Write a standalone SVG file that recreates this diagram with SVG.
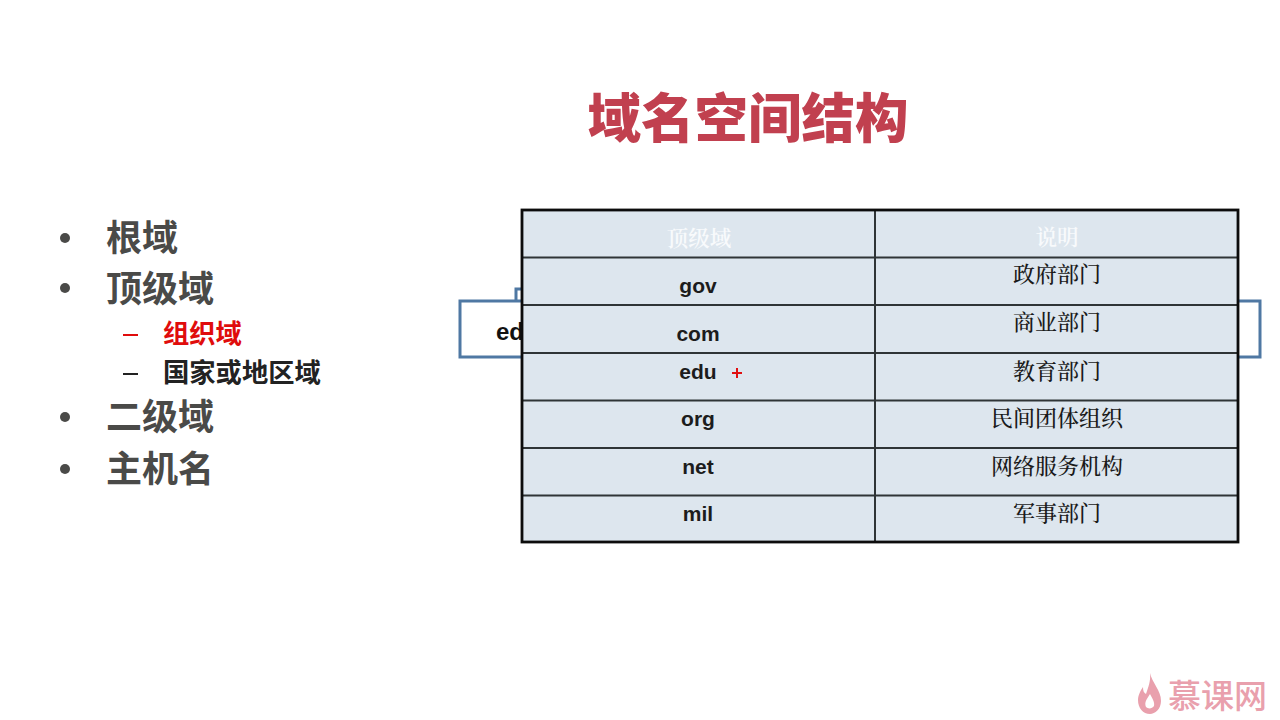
<svg xmlns="http://www.w3.org/2000/svg" width="1280" height="720" viewBox="0 0 1280 720">
<style>
.b{font-family:"Noto Sans CJK SC","Liberation Sans",sans-serif;font-weight:700;font-size:36px;fill:#4a4a48}
.s{font-family:"Noto Sans CJK SC","Liberation Sans",sans-serif;font-weight:700;font-size:26.300px}
.e{font-family:"Liberation Sans",Arial,sans-serif;font-weight:700;font-size:21px;fill:#1c1c1c;text-anchor:middle}
.c{font-family:"Noto Serif CJK SC","Noto Sans CJK SC",serif;font-size:22px;font-weight:500;fill:#1a1a1a;text-anchor:middle}
.h{fill:#f8fafc;font-size:21.500px;font-weight:600}
.g{stroke:#2f3436;stroke-width:2;fill:none}
</style>
<rect width="1280" height="720" fill="#fff"/>
<g id="title"><text x="748" y="138" text-anchor="middle" font-family="'Noto Sans CJK SC',sans-serif" font-weight="900" font-size="53.500" fill="#c1404f">域名空间结构</text></g>
<g id="bullets">
<circle cx="65" cy="238" r="5" fill="#4a4a48"/><text class="b" x="106" y="251">根域</text>
<circle cx="65" cy="288" r="5" fill="#4a4a48"/><text class="b" x="106" y="302">顶级域</text>
<rect x="123" y="334" width="15" height="2" fill="#e00c0c"/><text class="s" x="163" y="343" fill="#e00c0c">组织域</text>
<rect x="123" y="373" width="15" height="2" fill="#222"/><text class="s" x="163" y="382" fill="#222">国家或地区域</text>
<circle cx="65" cy="417" r="5" fill="#4a4a48"/><text class="b" x="106" y="430">二级域</text>
<circle cx="65" cy="469" r="5" fill="#4a4a48"/><text class="b" x="106" y="482">主机名</text>
</g>
<g id="behind-box">
<path d="M516 302V289H524" fill="none" stroke="#4f78a3" stroke-width="3"/>
<rect x="460" y="301" width="800" height="56" fill="#fff" stroke="#4f78a3" stroke-width="3"/>
<text x="496" y="340" font-family="'Liberation Sans',sans-serif" font-weight="700" font-size="24" fill="#111">edu</text>
</g>
<g id="table">
<rect x="522" y="210" width="716" height="332" fill="#dde6ee"/>
<g id="table-grid">
<path class="g" d="M522 257.500H1238M522 305H1238M522 353H1238M522 400.500H1238M522 448H1238M522 495.500H1238M875 210V542"/>
<rect x="522" y="210" width="716" height="332" fill="none" stroke="#0c0c0c" stroke-width="2.800"/>
</g>
<text class="c h" x="699" y="246">顶级域</text><text class="c h" x="1057" y="245">说明</text>
<text class="e" x="698" y="293">gov</text><text class="c" x="1057" y="282">政府部门</text>
<text class="e" x="698" y="341">com</text><text class="c" x="1057" y="330">商业部门</text>
<text class="e" x="698" y="379">edu</text><text class="c" x="1057" y="379">教育部门</text>
<text class="e" x="698" y="426">org</text><text class="c" x="1057" y="426">民间团体组织</text>
<text class="e" x="698" y="474">net</text><text class="c" x="1057" y="474">网络服务机构</text>
<text class="e" x="698" y="521">mil</text><text class="c" x="1057" y="521">军事部门</text>
</g>
<g id="cursor"><path d="M732 373H742M737 368V378" stroke="#e01010" stroke-width="2"/></g>
<g id="logo">
<path d="M1150 673C1152 683 1161 690 1161 701C1161 709 1155 714 1150 714C1143 714 1138 708 1138 700C1138 695 1141 690 1143 687C1143 691 1144 693 1146 694C1148 688 1151 681 1150 673ZM1150 694C1147 699 1144 702 1146 707C1148 709 1152 709 1154 706C1155 702 1152 698 1150 694Z" fill="#e9a0ad" fill-rule="evenodd"/>
<text x="1168" y="708" font-family="'Noto Sans CJK SC',sans-serif" font-weight="500" font-size="33" fill="#e9a0ad">慕课网</text>
</g>
</svg>
